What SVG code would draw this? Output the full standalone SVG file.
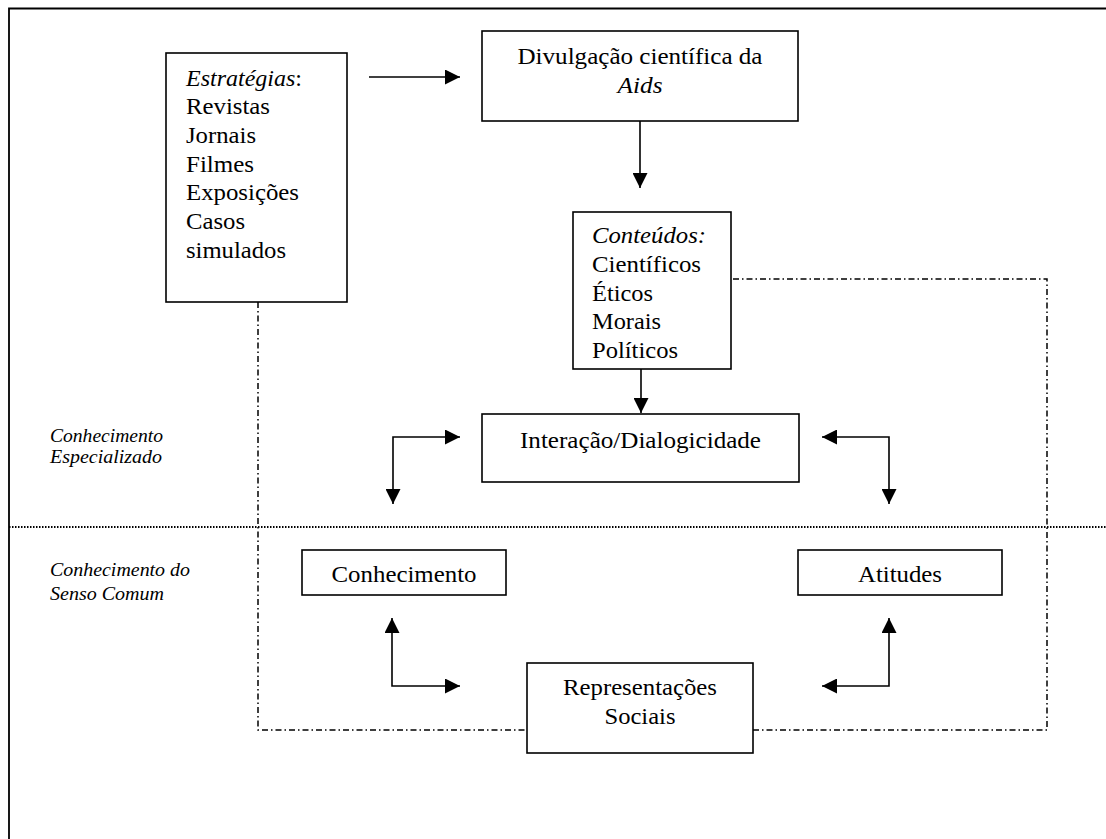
<svg xmlns="http://www.w3.org/2000/svg" width="1106" height="839" viewBox="0 0 1106 839">
<style>
.box{fill:#fff;stroke:#000;stroke-width:1.6}
.t{font-family:"Liberation Serif","Times New Roman",serif;font-size:24px;fill:#000}
.c{text-anchor:middle}
.i{font-style:italic}
.s{font-family:"Liberation Serif","Times New Roman",serif;font-size:18px;font-style:italic;fill:#000}
.ar{fill:none;stroke:#000;stroke-width:1.6}
.dd{fill:none;stroke:#000;stroke-width:1.5;stroke-dasharray:6 3 1.5 3}
.dot{fill:none;stroke:#000;stroke-width:2;stroke-dasharray:1.5 1.5}
</style>
<defs>
<marker id="ah" viewBox="0 0 15 15" refX="15" refY="7.5" markerWidth="15" markerHeight="15" markerUnits="userSpaceOnUse" orient="auto-start-reverse">
<path d="M0,0 L15,7.5 L0,15 z" fill="#000"/>
</marker>
</defs>
<rect width="1106" height="839" fill="#fff"/>
<g id="frame">
<path d="M9,839 L9,8.5 L1106,8.5" fill="none" stroke="#000" stroke-width="1.8"/>
</g>
<g id="separators">
<line class="dot" x1="9" y1="527" x2="1106" y2="527"/>
<path class="dd" d="M258,302 L258,730 L527,730"/>
<path class="dd" d="M753,730 L1047,730 L1047,279 L731,279"/>
</g>
<g id="labels">
<text class="s" x="50" y="442" textLength="113" lengthAdjust="spacingAndGlyphs">Conhecimento</text>
<text class="s" x="50" y="463" textLength="112" lengthAdjust="spacingAndGlyphs">Especializado</text>
<text class="s" x="50" y="576" textLength="140" lengthAdjust="spacingAndGlyphs">Conhecimento do</text>
<text class="s" x="50" y="600" textLength="114" lengthAdjust="spacingAndGlyphs">Senso Comum</text>
</g>
<g id="connectors">
<line class="ar" x1="369" y1="77" x2="460" y2="77" marker-end="url(#ah)"/>
<line class="ar" x1="640" y1="121" x2="640" y2="188" marker-end="url(#ah)"/>
<line class="ar" x1="641" y1="369" x2="641" y2="413" marker-end="url(#ah)"/>
<path class="ar" d="M460,437 L393,437 L393,504" marker-start="url(#ah)" marker-end="url(#ah)"/>
<path class="ar" d="M822,437 L889,437 L889,504" marker-start="url(#ah)" marker-end="url(#ah)"/>
<path class="ar" d="M392,618 L392,686 L460,686" marker-start="url(#ah)" marker-end="url(#ah)"/>
<path class="ar" d="M889,618 L889,686 L822,686" marker-start="url(#ah)" marker-end="url(#ah)"/>
</g>
<g id="estrategias">
<rect class="box" x="166" y="53" width="181" height="249"/>
<text class="t" x="186" y="86"><tspan class="i">Estratégias</tspan>:</text>
<text class="t" x="186" y="114" textLength="84" lengthAdjust="spacingAndGlyphs">Revistas</text>
<text class="t" x="186" y="143" textLength="70" lengthAdjust="spacingAndGlyphs">Jornais</text>
<text class="t" x="186" y="172" textLength="68" lengthAdjust="spacingAndGlyphs">Filmes</text>
<text class="t" x="186" y="200" textLength="113" lengthAdjust="spacingAndGlyphs">Exposições</text>
<text class="t" x="186" y="229" textLength="59" lengthAdjust="spacingAndGlyphs">Casos</text>
<text class="t" x="186" y="258" textLength="100" lengthAdjust="spacingAndGlyphs">simulados</text>
</g>
<g id="divulgacao">
<rect class="box" x="482" y="31" width="316" height="90"/>
<text class="t c" x="640" y="64" textLength="245" lengthAdjust="spacingAndGlyphs">Divulgação científica da</text>
<text class="t c i" x="640" y="93" textLength="45" lengthAdjust="spacingAndGlyphs">Aids</text>
</g>
<g id="conteudos">
<rect class="box" x="573" y="212" width="158" height="157"/>
<text class="t i" x="592" y="243" textLength="114" lengthAdjust="spacingAndGlyphs">Conteúdos:</text>
<text class="t" x="592" y="272" textLength="109" lengthAdjust="spacingAndGlyphs">Científicos</text>
<text class="t" x="592" y="301" textLength="61" lengthAdjust="spacingAndGlyphs">Éticos</text>
<text class="t" x="592" y="329" textLength="69" lengthAdjust="spacingAndGlyphs">Morais</text>
<text class="t" x="592" y="358" textLength="86" lengthAdjust="spacingAndGlyphs">Políticos</text>
</g>
<g id="interacao">
<rect class="box" x="482" y="414" width="317" height="68"/>
<text class="t c" x="640.5" y="448" textLength="241" lengthAdjust="spacingAndGlyphs">Interação/Dialogicidade</text>
</g>
<g id="conhecimento">
<rect class="box" x="302" y="550" width="204" height="45"/>
<text class="t c" x="404" y="582" textLength="145" lengthAdjust="spacingAndGlyphs">Conhecimento</text>
</g>
<g id="atitudes">
<rect class="box" x="798" y="550" width="204" height="45"/>
<text class="t c" x="900" y="582" textLength="84" lengthAdjust="spacingAndGlyphs">Atitudes</text>
</g>
<g id="representacoes">
<rect class="box" x="527" y="663" width="226" height="90"/>
<text class="t c" x="640" y="695" textLength="154" lengthAdjust="spacingAndGlyphs">Representações</text>
<text class="t c" x="640" y="724" textLength="71" lengthAdjust="spacingAndGlyphs">Sociais</text>
</g>
</svg>
